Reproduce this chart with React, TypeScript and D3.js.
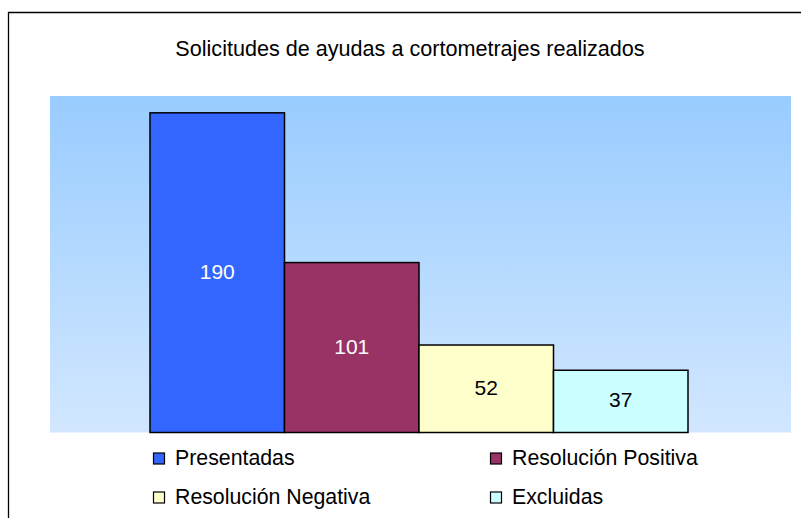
import React from "react";
import * as d3 from "d3";

const categories = ["Presentadas", "Resolución Positiva", "Resolución Negativa", "Excluidas"];
const values = [190, 101, 52, 37];
const colors = ["#3366FF", "#993366", "#FFFFCC", "#CCFFFF"];
const labelColors = ["#FFFFFF", "#FFFFFF", "#000000", "#000000"];
const title = "Solicitudes de ayudas a cortometrajes realizados";

export default function App() {
  const W = 801, H = 518;
  const plot = { x0: 50, x1: 791, y0: 96, y1: 432.5 };
  const x = d3.scaleBand<string>().domain(categories).range([150, 688]).padding(0);
  const y = d3.scaleLinear().domain([0, 200]).range([plot.y1, plot.y0]);
  const font = "'Liberation Sans', Arial, sans-serif";
  const legendPos = [
    { x: 153.5, y: 458.5 },
    { x: 490.5, y: 458.5 },
    { x: 153.5, y: 497.5 },
    { x: 490.5, y: 497.5 },
  ];
  return (
    <svg width={W} height={H} style={{ position: "absolute", left: 0, top: 0 }} fontFamily={font}>
      <defs>
        <linearGradient id="bg" x1="0" y1="0" x2="0" y2="1">
          <stop offset="0" stopColor="#99CCFF" />
          <stop offset="1" stopColor="#D2E7FF" />
        </linearGradient>
      </defs>
      <rect x={0} y={0} width={W} height={H} fill="#fff" />
      <path d={`M8.5,${H} V12.5 H${W}`} fill="none" stroke="#000" strokeWidth={1.3} />
      <text x={410} y={56} textAnchor="middle" fontSize={21.6} fill="#000">{title}</text>
      <rect x={plot.x0} y={plot.y0} width={plot.x1 - plot.x0} height={plot.y1 - plot.y0} fill="url(#bg)" />
      {categories.map((c, i) => (
        <g key={c}>
          <rect
            x={x(c)!}
            y={y(values[i])}
            width={x.bandwidth()}
            height={y(0) - y(values[i])}
            fill={colors[i]}
            stroke="#000"
            strokeWidth={1.5}
          />
          <text
            x={x(c)! + x.bandwidth() / 2}
            y={(y(values[i]) + y(0)) / 2 + 6}
            textAnchor="middle"
            fontSize={21}
            fill={labelColors[i]}
          >
            {values[i]}
          </text>
        </g>
      ))}
      {categories.map((c, i) => (
        <g key={"l" + c}>
          <rect x={legendPos[i].x} y={legendPos[i].y - 5.5} width={11} height={11} fill={colors[i]} stroke="#000" strokeWidth={1.2} />
          <text x={legendPos[i].x + 21.5} y={legendPos[i].y + 6.5} fontSize={21.3} fill="#000">{c}</text>
        </g>
      ))}
    </svg>
  );
}
